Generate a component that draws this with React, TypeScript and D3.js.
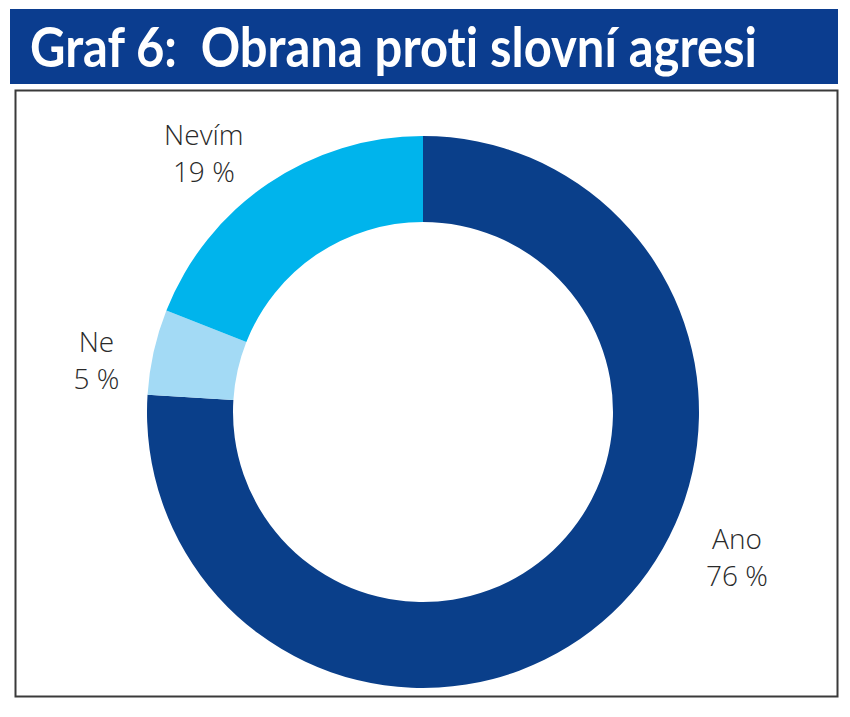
import React, { useEffect, useRef } from "react";
import * as d3 from "d3";

// data
const categories = ["Ano", "Ne", "Nevím"];
const shares = [76, 5, 19];
const colors = ["#0a3f8a", "#a3daf5", "#00b4ec"];
// label anchor (angle in degrees from top, clockwise; distance from centre)
const labelAngles = [114.5, 279.4, 320];
const labelDist = [345, 331, 341];

const title = "Graf 6:  Obrana proti slovní agresi";

const W = 850;
const H = 717;

function App() {
  const svgRef = useRef<SVGSVGElement>(null);

  useEffect(() => {
    const svg = d3.select(svgRef.current);
    svg.selectAll("*").remove();

    svg.append("rect").attr("width", W).attr("height", H).attr("fill", "#fff");

    // header
    svg.append("rect")
      .attr("x", 10).attr("y", 9)
      .attr("width", 828).attr("height", 75)
      .attr("fill", "#0b3d8f");

    svg.append("text")
      .attr("x", 30).attr("y", 67)
      .attr("fill", "#fff")
      .attr("xml:space", "preserve")
      .style("white-space", "pre")
      .style("font-variant-ligatures", "none")
      .style("font-family", "Lato, 'Open Sans', sans-serif")
      .style("font-weight", 700)
      .style("font-size", "55px")
      .attr("textLength", 727)
      .attr("lengthAdjust", "spacingAndGlyphs")
      .text(title);

    // frame
    svg.append("rect")
      .attr("x", 15.5).attr("y", 90.5)
      .attr("width", 822).attr("height", 606)
      .attr("fill", "none")
      .attr("stroke", "#3a3a3a")
      .attr("stroke-width", 2);

    const cx = 423, cy = 412;
    const outerR = 276, innerR = 190;

    const data = categories.map((c, i) => ({ name: c, value: shares[i], i }));
    const pie = d3.pie<any>().value((d) => d.value).sort(null);
    const arc = d3.arc<any>().innerRadius(innerR).outerRadius(outerR);

    const g = svg.append("g").attr("transform", `translate(${cx},${cy})`);
    g.selectAll("path")
      .data(pie(data))
      .enter()
      .append("path")
      .attr("d", arc)
      .attr("fill", (d) => colors[d.data.i]);

    // labels
    const lab = g.selectAll("g.lab")
      .data(data)
      .enter()
      .append("g")
      .attr("class", "lab")
      .attr("transform", (d) => {
        const a = (labelAngles[d.i] * Math.PI) / 180;
        const r = labelDist[d.i];
        return `translate(${r * Math.sin(a)},${-r * Math.cos(a)})`;
      });

    lab.append("text")
      .attr("y", -6)
      .attr("text-anchor", "middle")
      .attr("fill", "#2a2a2a")
      .style("font-family", "'Open Sans', sans-serif")
      .style("font-weight", 300)
      .style("font-size", "28px")
      .text((d) => d.name);

    lab.append("text")
      .attr("y", 31)
      .attr("text-anchor", "middle")
      .attr("fill", "#2a2a2a")
      .style("font-family", "'Open Sans', sans-serif")
      .style("font-weight", 300)
      .style("font-size", "28px")
      .text((d) => `${d.value} %`);
  }, []);

  return (
    <svg
      ref={svgRef}
      width={W}
      height={H}
      style={{ position: "absolute", left: 0, top: 0, display: "block" }}
    />
  );
}

export default App;
